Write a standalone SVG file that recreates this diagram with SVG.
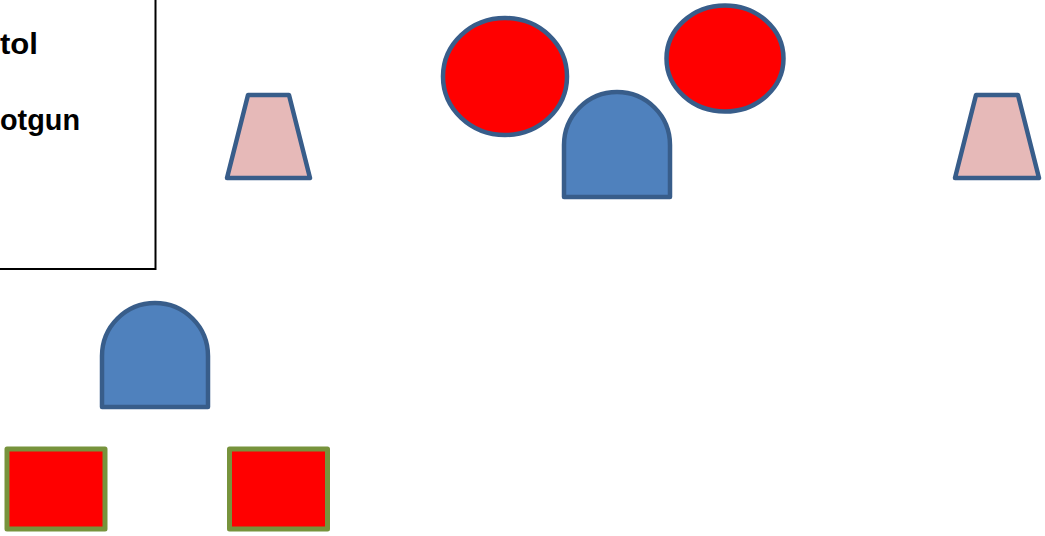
<svg xmlns="http://www.w3.org/2000/svg" width="1045" height="536" viewBox="0 0 1045 536">
<style>
.lbl{font-family:"Liberation Sans",Arial,sans-serif;font-weight:bold;font-size:30px;fill:#000}
.trap{fill:#E6B9B8;stroke:#385D8A;stroke-width:4.5;stroke-linejoin:round}
.ell{fill:#FF0000;stroke:#385D8A;stroke-width:4.5}
.dome{fill:#4F81BD;stroke:#385D8A;stroke-width:4.5;stroke-linejoin:round}
.sq{fill:#FF0000;stroke:#77933C;stroke-width:5;stroke-linejoin:round}
</style>
<rect width="1045" height="536" fill="#fff"/>
<g id="legend">
<rect x="-10" y="-10" width="165.5" height="279" fill="none" stroke="#000" stroke-width="2"/>
<text class="lbl" x="0" y="53.5" textLength="38" lengthAdjust="spacingAndGlyphs">tol</text>
<text class="lbl" x="0" y="130" textLength="80" lengthAdjust="spacingAndGlyphs">otgun</text>
</g>
<g id="trap-left"><polygon class="trap" points="248,95 289,95 310,178 227,178"/></g>
<g id="trap-right"><polygon class="trap" points="976,95 1018,95 1039,178 955,178"/></g>
<g id="ellipse-left"><ellipse class="ell" cx="505" cy="76.5" rx="62" ry="58.5"/></g>
<g id="ellipse-right"><ellipse class="ell" cx="725" cy="58.5" rx="58.5" ry="53"/></g>
<g id="dome-top"><path class="dome" d="M564,197 V145 A53,53 0 0 1 670,145 V197 Z"/></g>
<g id="dome-left"><path class="dome" d="M102,407 V356 A53,53 0 0 1 208,356 V407 Z"/></g>
<g id="square-left"><rect class="sq" x="7" y="449" width="98" height="80"/></g>
<g id="square-right"><rect class="sq" x="229.5" y="449" width="98" height="80"/></g>
<g id="connectors"/>
</svg>
